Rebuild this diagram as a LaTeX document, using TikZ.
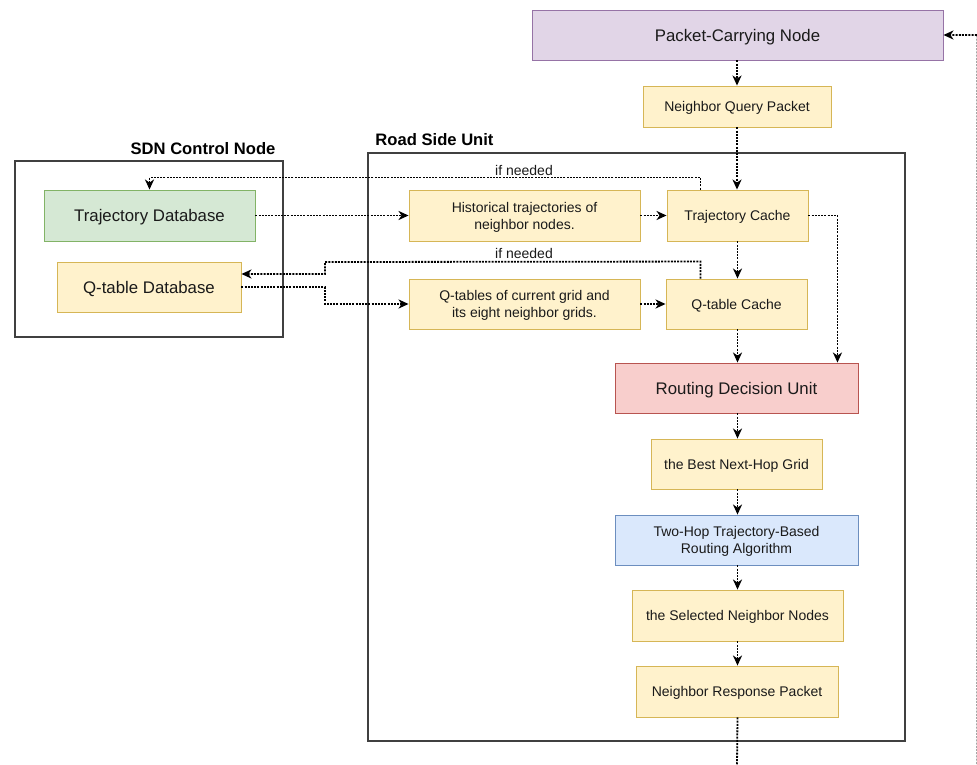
\documentclass[tikz,border=0pt]{standalone}
\usepackage{fontspec}
\setmainfont{Liberation Sans}
\usetikzlibrary{arrows.meta,calc}
\definecolor{txt}{HTML}{1A1A1A}
\definecolor{pfill}{HTML}{E1D5E7}\definecolor{pline}{HTML}{9673A6}
\definecolor{yfill}{HTML}{FFF2CC}\definecolor{yline}{HTML}{D6B656}
\definecolor{gfill}{HTML}{D5E8D4}\definecolor{gline}{HTML}{82B366}
\definecolor{rfill}{HTML}{F8CECC}\definecolor{rline}{HTML}{B85450}
\definecolor{bfill}{HTML}{DAE8FC}\definecolor{bline}{HTML}{6C8EBF}
\definecolor{cline}{HTML}{404040}
\tikzset{
  boxbase/.style={rectangle, line width=0.9pt, inner sep=2pt, align=center, text=txt,
     text depth=0pt, font=\fontsize{14}{17}\selectfont},
  ybox/.style={boxbase, fill=yfill, draw=yline},
  gbox/.style={boxbase, fill=gfill, draw=gline, font=\fontsize{16.8}{20}\selectfont},
  pbox/.style={boxbase, fill=pfill, draw=pline, font=\fontsize{16.8}{20}\selectfont},
  rbox/.style={boxbase, fill=rfill, draw=rline, font=\fontsize{16.8}{20}\selectfont},
  bbox/.style={boxbase, fill=bfill, draw=bline},
  ybig/.style={ybox, font=\fontsize{16.8}{20}\selectfont},
  container/.style={draw=cline, line width=1.3pt},
  grouptitle/.style={font=\bfseries\fontsize{16.6}{20}\selectfont, text=black, inner sep=0pt},
  conn/.style={line width=1.8pt, dash pattern=on 2pt off 1.2pt, black,
     -{Stealth[length=10pt,width=9pt,inset=3pt]}},
  lbl/.style={font=\fontsize{14}{17}\selectfont, text=txt, inner sep=0pt},
}
\begin{document}
\begin{tikzpicture}[x=1pt,y=-1pt]
\useasboundingbox (0,0) rectangle (977,765);
\fill[white] (0,0) rectangle (977,765);

% containers
\draw[container] (15,161) rectangle (283,337);
\draw[container] (368,153) rectangle (905,741);
\node[grouptitle] (sdnt) at (203,149) {SDN Control Node};
\node[grouptitle] (rsut) at (434.5,140) {Road Side Unit};

% nodes
\node[pbox, minimum width=411pt, minimum height=50pt] (pcn) at (737.5,35) {Packet-Carrying Node};
\node[ybox, minimum width=188pt, minimum height=41pt] (nqp) at (737,106.5) {Neighbor Query Packet};
\node[gbox, minimum width=211pt, minimum height=51pt] (tdb) at (149.5,215.5) {Trajectory Database};
\node[ybig, minimum width=184pt, minimum height=50pt] (qdb) at (149,287) {Q-table Database};
\node[ybox, minimum width=231pt, minimum height=51pt] (hist) at (524.5,215.5) {Historical trajectories of\\neighbor nodes.};
\node[ybox, minimum width=141pt, minimum height=51pt] (tc) at (737.5,215.5) {Trajectory Cache};
\node[ybox, minimum width=231pt, minimum height=50pt] (qt) at (524.5,304) {Q-tables of current grid and\\its eight neighbor grids.};
\node[ybox, minimum width=141pt, minimum height=50pt] (qc) at (736.5,304) {Q-table Cache};
\node[rbox, minimum width=243pt, minimum height=50pt] (rdu) at (736.5,388) {Routing Decision Unit};
\node[ybox, minimum width=171pt, minimum height=50pt] (bnh) at (736.5,464) {the Best Next-Hop Grid};
\node[bbox, minimum width=243pt, minimum height=50pt] (tho) at (736.5,540) {Two-Hop Trajectory-Based\\Routing Algorithm};
\node[ybox, minimum width=211pt, minimum height=51pt] (sel) at (737.5,615.5) {the Selected Neighbor Nodes};
\node[ybox, minimum width=202pt, minimum height=51pt] (nrp) at (737,691.5) {Neighbor Response Packet};

% labels
\node[lbl] (if1) at (524,170) {if needed};
\node[lbl] (if2) at (524,253.5) {if needed};

% coordinates
\coordinate (tcup) at ($(tc.north west)+(34,0)$);
\coordinate (qcup) at ($(qc.north west)+(35,0)$);
\coordinate (rduin) at ($(rdu.north east)+(-21,0)$);
\coordinate (qdbin) at ($(qdb.east)+(0,-13)$);
\coordinate (bl) at (737,765.9);
\coordinate (br) at (977.6,765.9);
\coordinate (tr) at (977.6,35);

% connectors
\draw[conn] (nqp.north |- pcn.south) -- (nqp.north);
\draw[conn] (nqp.south) -- (nqp.south |- tc.north);
\draw[conn] (tdb.east) -- (hist.west);
\draw[conn] (hist.east) -- (tc.west);
\draw[conn] (tcup) -- ++(0,-12) -| (tdb.north);
\draw[conn] (tc.east) -| (rduin);
\draw[conn] (tc.south) -- (tc.south |- qc.north);
\draw[conn] (qcup) -- ++(0,-17) -- (325,262) -- (325,274) -- (qdbin);
\draw[conn] (qdb.east) -- (325,287) -- (325,304) -- (qt.west);
\draw[conn] (qt.east) -- (qc.west);
\draw[conn] (tc.south |- qc.south) -- (tc.south |- rdu.north);
\draw[conn] (tc.south |- rdu.south) -- (tc.south |- bnh.north);
\draw[conn] (tc.south |- bnh.south) -- (tc.south |- tho.north);
\draw[conn] (tc.south |- tho.south) -- (tc.south |- sel.north);
\draw[conn] (tc.south |- sel.south) -- (tc.south |- nrp.north);
\draw[conn] (tc.south |- nrp.south) -- (bl) -- (br) -- (tr) -- (pcn.east);
\end{tikzpicture}
\end{document}
